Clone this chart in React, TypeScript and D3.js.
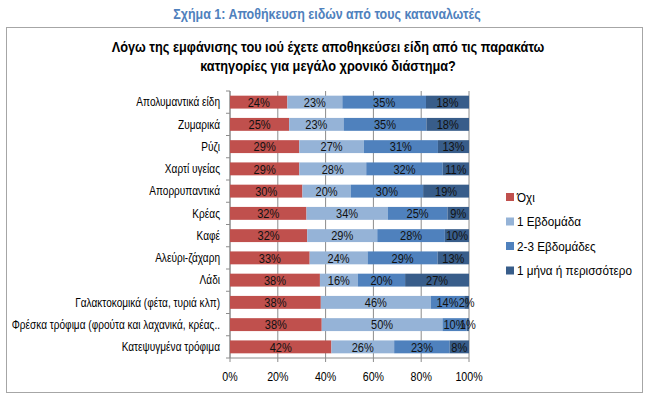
import React from "react";
import * as d3 from "d3";

const categories = [
  "Απολυμαντικά είδη",
  "Ζυμαρικά",
  "Ρύζι",
  "Χαρτί υγείας",
  "Απορρυπαντικά",
  "Κρέας",
  "Καφέ",
  "Αλεύρι-ζάχαρη",
  "Λάδι",
  "Γαλακτοκομικά (φέτα, τυριά κλπ)",
  "Φρέσκα τρόφιμα (φρούτα και λαχανικά, κρέας..",
  "Κατεψυγμένα τρόφιμα",
];
const seriesNames = ["Όχι", "1 Εβδομάδα", "2-3 Εβδομάδες", "1 μήνα ή περισσότερο"];
const ochi = [24, 25, 29, 29, 30, 32, 32, 33, 38, 38, 38, 42];
const week1 = [23, 23, 27, 28, 20, 34, 29, 24, 16, 46, 50, 26];
const weeks23 = [35, 35, 31, 32, 30, 25, 28, 29, 20, 14, 10, 23];
const month1 = [18, 18, 13, 11, 19, 9, 10, 13, 27, 2, 1, 8];
const xTicks = [0, 0.2, 0.4, 0.6, 0.8, 1];

const colors = ["#C0504D", "#95B3D7", "#4F81BD", "#385D8A"];
const font = "'Liberation Sans', Arial, sans-serif";

// narrow text: Arial Narrow is not installed, so squeeze Liberation Sans horizontally
const T: React.FC<{
  x: number;
  y: number;
  size: number;
  sx: number;
  anchor?: "start" | "middle" | "end";
  bold?: boolean;
  fill?: string;
  dy?: string;
  children: React.ReactNode;
}> = ({ x, y, size, sx, anchor = "start", bold, fill = "#000", dy, children }) => (
  <text
    transform={`translate(${x},${y}) scale(${sx},1)`}
    dy={dy}
    textAnchor={anchor}
    fontFamily={font}
    fontSize={size}
    fontWeight={bold ? "bold" : "normal"}
    fill={fill}
  >
    {children}
  </text>
);

const App: React.FC = () => {
  const width = 650;
  const height = 396;
  const x = d3.scaleLinear().domain([0, 1]).range([230, 469]);
  const y = d3.scaleBand<string>().domain(categories).range([91, 358]).paddingInner(0.42).paddingOuter(0.21);
  const yAxisBand = d3.scaleBand<string>().domain(categories).range([91, 358]);

  const rows = categories.map((c, i) => {
    const vals = [ochi[i], week1[i], weeks23[i], month1[i]];
    const total = d3.sum(vals);
    let acc = 0;
    const segs = vals.map((v, k) => {
      const x0 = acc / total;
      acc += v;
      return { k, v, x0, x1: acc / total };
    });
    return { c, segs };
  });

  return (
    <svg width={width} height={height} style={{ position: "absolute", left: 0, top: 0, background: "#fff" }}>
      <T x={327} y={19} size={14} sx={0.89} anchor="middle" bold fill="#4F81BD">
        Σχήμα 1: Αποθήκευση ειδών από τους καταναλωτές
      </T>
      <rect x={6.5} y={27.5} width={636} height={365} fill="none" stroke="#A6A6A6" strokeWidth={1} />
      <T x={328} y={52} size={15} sx={0.85} anchor="middle" bold>
        Λόγω της εμφάνισης του ιού έχετε αποθηκεύσει είδη από τις παρακάτω
      </T>
      <T x={328} y={71} size={15} sx={0.85} anchor="middle" bold>
        κατηγορίες για μεγάλο χρονικό διάστημα?
      </T>

      {xTicks.map((t) => (
        <line key={t} x1={x(t)} x2={x(t)} y1={91} y2={362} stroke="#8C8C8C" strokeWidth={1} />
      ))}
      <line x1={230} x2={230} y1={91} y2={358} stroke="#8C8C8C" />
      {categories.map((c) => (
        <line key={c} x1={226} x2={230} y1={yAxisBand(c)!} y2={yAxisBand(c)!} stroke="#8C8C8C" />
      ))}
      <line x1={226} x2={469} y1={358} y2={358} stroke="#8C8C8C" />

      {rows.map((r) => (
        <g key={r.c}>
          <T x={220} y={y(r.c)! + y.bandwidth() / 2} dy="0.35em" size={12} sx={0.84} anchor="end">
            {r.c}
          </T>
          {r.segs.map((s) => (
            <g key={s.k}>
              <rect x={x(s.x0)} y={y(r.c)!} width={x(s.x1) - x(s.x0)} height={y.bandwidth()} fill={colors[s.k]} />
              <T
                x={(x(s.x0) + x(s.x1)) / 2}
                y={y(r.c)! + y.bandwidth() / 2}
                dy="0.36em"
                size={13}
                sx={0.85}
                anchor="middle"
                fill="#111"
              >
                {s.v}%
              </T>
            </g>
          ))}
        </g>
      ))}

      {xTicks.map((t) => (
        <T key={t} x={x(t)} y={381} size={13} sx={0.82} anchor="middle">
          {d3.format(".0%")(t)}
        </T>
      ))}

      {seriesNames.map((n, i) => (
        <g key={n} transform={`translate(506,${197 + i * 24.5})`}>
          <rect x={0} y={-4} width={8} height={8} fill={colors[i]} />
          <T x={11} y={0} dy="0.35em" size={13} sx={0.9}>
            {n}
          </T>
        </g>
      ))}
    </svg>
  );
};

export default App;
